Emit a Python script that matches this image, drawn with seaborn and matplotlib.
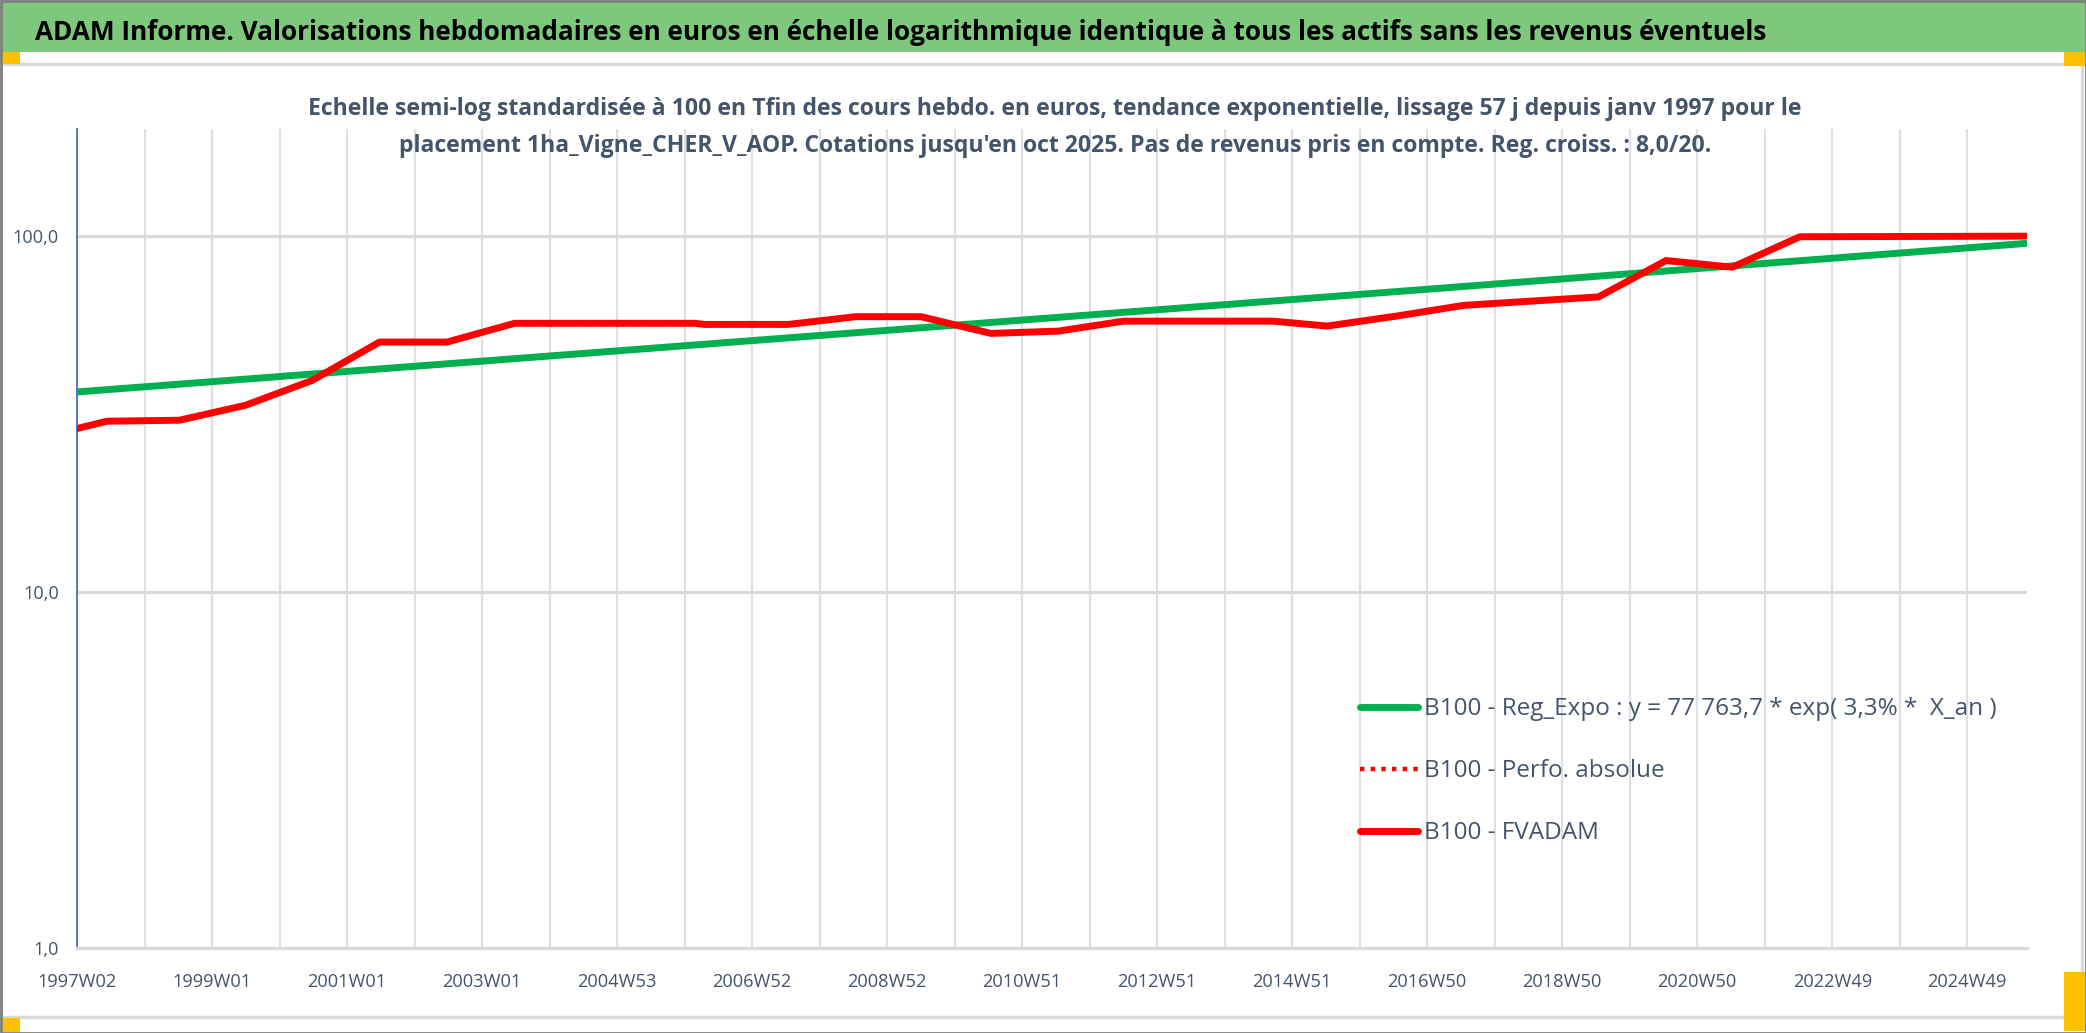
import numpy as np
import pandas as pd
import matplotlib
matplotlib.use("Agg")
import matplotlib.pyplot as plt
import seaborn as sns
from matplotlib.patches import Rectangle
from matplotlib.lines import Line2D
from matplotlib.ticker import NullLocator

# ------------------------------------------------------------------ data
x_labels = ["1997W02", "1999W01", "2001W01", "2003W01", "2004W53", "2006W52",
            "2008W52", "2010W51", "2012W51", "2014W51", "2016W50", "2018W50",
            "2020W50", "2022W49", "2024W49"]

# week index counted from 1997W02
weeks_fvadam = [0, 23, 79, 130, 181, 233, 285, 337, 476, 483, 548, 600, 650,
                704, 756, 806, 921, 963, 1016, 1068, 1172, 1224, 1275, 1327, 1501]
fvadam = [28.8, 30.2, 30.4, 33.5, 39.3, 50.4, 50.4, 56.9, 56.9, 56.5, 56.5,
          59.4, 59.4, 53.3, 54.1, 57.7, 57.7, 55.9, 59.6, 63.9, 67.5, 85.4,
          81.8, 99.6, 100.0]

weeks_perfo = list(weeks_fvadam)
perfo_absolue = list(fvadam)

weeks_reg = [0, 988, 1501]
reg_expo = [36.5, 68.6, 95.4]

y_ticks = [1, 10, 100]
y_tick_labels = ["1,0", "10,0", "100,0"]

header = ("ADAM Informe. Valorisations hebdomadaires en euros en échelle "
          "logarithmique identique à tous les actifs sans les revenus éventuels")
subtitle_1 = ("Echelle semi-log standardisée à 100 en Tfin des cours hebdo. en euros, "
              "tendance exponentielle, lissage 57 j depuis janv 1997 pour le")
subtitle_2 = ("placement 1ha_Vigne_CHER_V_AOP. Cotations jusqu'en oct 2025. "
              "Pas de revenus pris en compte. Reg. croiss. : 8,0/20.")
legend_labels = ["B100 - Reg_Expo : y = 77 763,7 * exp( 3,3% *  X_an )",
                 "B100 - Perfo. absolue",
                 "B100 - FVADAM"]

# ------------------------------------------------------------------ style
W, H = 2086, 1033
PX_PER_PT = 100 / 72
sns.set_theme(style="white")
FONT = ["Liberation Sans Narrow", "Open Sans", "DejaVu Sans"]
plt.rcParams["font.family"] = FONT

TXT = "#44546A"
GRID = "#DDE1E7"
GREEN = "#00B050"
RED = "#FF0000"

fig = plt.figure(figsize=(W / 100, H / 100), dpi=100, facecolor="white")


def fx(px):
    return px / W


def fy(py):
    return 1 - py / H


def rect(x0, y0, x1, y1, **kw):
    r = Rectangle((fx(x0), fy(y1)), fx(x1) - fx(x0), fy(y0) - fy(y1),
                  transform=fig.transFigure, **kw)
    fig.add_artist(r)
    return r


# frame decorations
rect(0, 0, W, 52, facecolor="#7EC87E", edgecolor="none", zorder=0)
rect(1, 64, 2082, 1017, facecolor="white", edgecolor="#D9D9D9", lw=2.5, zorder=0)
rect(0, 52, 20, 64, facecolor="#FFC000", edgecolor="none", zorder=1)
rect(2064, 52, W, 66, facecolor="#FFC000", edgecolor="none", zorder=1)
rect(0, 1018, 20, 1032, facecolor="#FFC000", edgecolor="none", zorder=1)
rect(2064, 972, W, 1031, facecolor="#FFC000", edgecolor="none", zorder=1)
rect(0.5, 0.5, W - 0.5, H - 0.5, facecolor="none", edgecolor="#7F7F7F", lw=2, zorder=5)

# ------------------------------------------------------------------ axes
ax = fig.add_axes([fx(77), fy(948), fx(2027) - fx(77), fy(129) - fy(948)])
ax.set_facecolor("none")

df_reg = pd.DataFrame({"week": weeks_reg, "value": reg_expo})
df_perfo = pd.DataFrame({"week": weeks_perfo, "value": perfo_absolue})
df_fv = pd.DataFrame({"week": weeks_fvadam, "value": fvadam})

sns.lineplot(data=df_reg, x="week", y="value", ax=ax, color=GREEN, lw=5,
             legend=False, errorbar=None, zorder=3)
sns.lineplot(data=df_perfo, x="week", y="value", ax=ax, color=RED, lw=4,
             linestyle=":", legend=False, errorbar=None, zorder=3.5)
sns.lineplot(data=df_fv, x="week", y="value", ax=ax, color=RED, lw=5,
             legend=False, errorbar=None, zorder=4)

ax.set_yscale("log")
ax.set_ylim(1, 200)
ax.set_xlim(0, 1502)
ax.set_xlabel("")
ax.set_ylabel("")

grid_weeks = np.arange(0, 1457, 52)
ax.set_xticks(grid_weeks)
ax.set_xticklabels([x_labels[i // 2] if i % 2 == 0 else "" for i in range(len(grid_weeks))])
ax.set_yticks(y_ticks)
ax.set_yticklabels(y_tick_labels)
ax.yaxis.set_minor_locator(NullLocator())
ax.xaxis.set_minor_locator(NullLocator())

ax.grid(axis="x", color=GRID, lw=1.6)
ax.grid(axis="y", color="#D9D9D9", lw=2.2)
ax.set_axisbelow(True)

for s in ["top", "right"]:
    ax.spines[s].set_visible(False)
ax.spines["left"].set_color("#4472C4")
ax.spines["left"].set_linewidth(1.3)
ax.spines["bottom"].set_color("#D9D9D9")
ax.spines["bottom"].set_linewidth(2.4)

x_pad, y_pad = 10.0, 13.0
ax.tick_params(axis="x", length=5, width=1.6, color=GRID, pad=x_pad,
               labelcolor=TXT, labelsize=14)
ax.tick_params(axis="y", length=0, pad=y_pad, labelcolor=TXT, labelsize=14)

# ------------------------------------------------------------------ texts
t_head = fig.text(fx(35), fy(40), header, fontsize=20, fontweight="bold",
                  color="black", ha="left", va="baseline", zorder=6)
t_s1 = fig.text(fx(1055), fy(115), subtitle_1, fontsize=16, fontweight="bold",
                color=TXT, ha="center", va="baseline", zorder=6)
t_s2 = fig.text(fx(1055), fy(152), subtitle_2, fontsize=16, fontweight="bold",
                color=TXT, ha="center", va="baseline", zorder=6)

fig.canvas.draw()
rend = fig.canvas.get_renderer()


def width(t):
    return t.get_window_extent(renderer=rend).width


t_head.set_fontsize(20 * 1735 / width(t_head))
fs_sub = 16 * 1495 / width(t_s1)
t_s1.set_fontsize(fs_sub)
t_s2.set_fontsize(fs_sub)

xl0 = ax.get_xticklabels()[0]
fs_x = 14 * 80 / width(xl0)
yl_last = ax.get_yticklabels()[-1]
fs_y = 14 * 46.5 / width(yl_last)
ax.tick_params(axis="x", labelsize=fs_x)
ax.tick_params(axis="y", labelsize=fs_y)

# legend
handles = [Line2D([], [], color=GREEN, lw=5, solid_capstyle="round"),
           Line2D([], [], color=RED, lw=3.2, linestyle=(0, (1, 1.4))),
           Line2D([], [], color=RED, lw=5, solid_capstyle="round")]


def make_legend(fs, ls):
    fpx = fs * PX_PER_PT
    return ax.legend(handles, legend_labels, loc="center left",
                     bbox_to_anchor=(fx(1360), fy(771)),
                     bbox_transform=fig.transFigure, frameon=False,
                     fontsize=fs, labelcolor=TXT, borderpad=0, borderaxespad=0,
                     handlelength=58 / fpx, handletextpad=6 / fpx,
                     labelspacing=ls)


leg = make_legend(16, 1.5)
fs_leg = 16 * 572 / width(leg.get_texts()[0])
leg = make_legend(fs_leg, 1.5)
fig.canvas.draw()
tb = [t.get_window_extent(renderer=rend) for t in leg.get_texts()]
meas = ((tb[0].y0 + tb[0].y1) - (tb[2].y0 + tb[2].y1)) / 4
ls = 1.5 + (62 - meas) / (fs_leg * PX_PER_PT)
leg = make_legend(fs_leg, ls)

# adjust tick label pads
fig.canvas.draw()
bb = ax.get_xticklabels()[0].get_window_extent(renderer=rend)
cen = H - (bb.y0 + bb.y1) / 2
x_pad = x_pad + (982 - cen) / PX_PER_PT
bb = ax.get_yticklabels()[-1].get_window_extent(renderer=rend)
y_pad = y_pad + (bb.x1 - 59) / PX_PER_PT
ax.tick_params(axis="x", pad=x_pad)
ax.tick_params(axis="y", pad=y_pad)

fig.savefig("out.png", dpi=100, facecolor="white")
